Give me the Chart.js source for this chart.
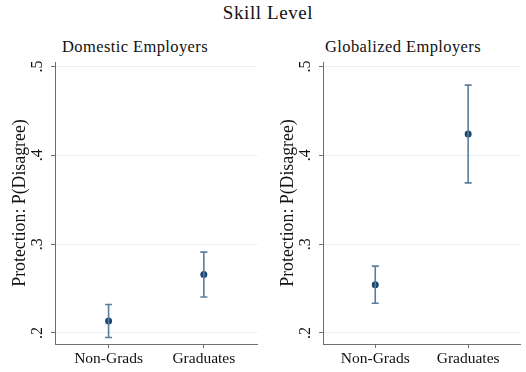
<!DOCTYPE html>
<html>
<head>
<meta charset="utf-8">
<script src="https://cdn.jsdelivr.net/npm/chart.js@4/dist/chart.umd.min.js"></script>
<style>
  body { margin: 0; background: #fff; }
  #wrap { position: relative; width: 526px; height: 372px; font-family: "Liberation Serif", serif; color: #111; }
  .lbl { position: absolute; white-space: nowrap; line-height: 1; }
  canvas { position: absolute; top: 0; }
</style>
</head>
<body>
<div id="wrap">
  <div class="lbl" id="mainTitle" style="left:0;width:526px;text-align:center;top:3px;font-size:19px;letter-spacing:0.6px;padding-left:10px;box-sizing:border-box;">Skill Level</div>
  <div class="lbl" style="left:62px;top:39px;font-size:16.5px;letter-spacing:0.4px;">Domestic Employers</div>
  <div class="lbl" style="left:325px;top:39px;font-size:16.5px;letter-spacing:0.4px;">Globalized Employers</div>
  <div id="left" style="position:absolute;left:0;top:0;width:263px;height:372px;"><canvas id="c1"></canvas></div>
  <div id="right" style="position:absolute;left:268px;top:0;width:258px;height:372px;"><canvas id="c2"></canvas></div>
</div>
<script>
// Predicted P(Disagree) by skill level, with 95% intervals
var categories = ['Non-Grads', 'Graduates'];
var yTicks = [0.2, 0.3, 0.4, 0.5];
var yTickLabels = ['.2', '.3', '.4', '.5'];

var domesticEst = [0.2135, 0.2657];
var domesticLo = [0.195, 0.2405];
var domesticHi = [0.232, 0.291];

var globalEst = [0.2544, 0.424];
var globalLo = [0.2334, 0.369];
var globalHi = [0.2752, 0.479];

var navy = '#1a476f';
var whisker = '#5a7c9c';
var axisGray = '#6e6e6e';
var gridColor = '#e9f0f1';
var serif = '"Liberation Serif", serif';

// draws the rotated y tick labels (Stata style)
var yTickPlugin = {
  id: 'yTickLabels',
  afterDraw: function(chart) {
    var ctx = chart.ctx;
    var y = chart.scales.y;
    ctx.save();
    ctx.fillStyle = '#111';
    ctx.font = '16px ' + serif;
    ctx.textAlign = 'center';
    ctx.textBaseline = 'middle';
    for (var i = 0; i < yTicks.length; i++) {
      var py = y.getPixelForValue(yTicks[i]);
      ctx.save();
      ctx.translate(y.right - 17, py);
      ctx.rotate(-Math.PI / 2);
      ctx.fillText(yTickLabels[i], 0, 0);
      ctx.restore();
    }
    ctx.restore();
  }
};

function makePanel(id, est, lo, hi, yWidth) {
  var datasets = [];
  for (var i = 0; i < categories.length; i++) {
    datasets.push({
      type: 'line',
      data: [{x: i, y: lo[i]}, {x: i, y: hi[i]}],
      borderColor: whisker,
      borderWidth: 1.6,
      pointStyle: 'line',
      pointRadius: 3.5,
      pointBorderColor: whisker,
      pointBorderWidth: 1.6,
      showLine: true
    });
  }
  datasets.push({
    type: 'scatter',
    data: est.map(function(v, i) { return {x: i, y: v}; }),
    backgroundColor: navy,
    borderColor: navy,
    pointRadius: 3.5,
    pointBorderWidth: 0
  });

  return new Chart(document.getElementById(id), {
    type: 'scatter',
    data: { datasets: datasets },
    options: {
      responsive: true,
      maintainAspectRatio: false,
      animation: false,
      events: [],
      layout: { padding: { top: 62, right: 4, left: 0, bottom: 0 } },
      plugins: { legend: { display: false }, tooltip: { enabled: false } },
      scales: {
        x: {
          type: 'linear',
          min: -0.5625,
          max: 1.5625,
          afterBuildTicks: function(s) { s.ticks = categories.map(function(c, i) { return {value: i}; }); },
          afterFit: function(s) { s.height = 28; },
          ticks: {
            callback: function(v) { return categories[v]; },
            color: '#111',
            font: { family: serif, size: 15.5 },
            padding: 2,
            maxRotation: 0
          },
          grid: { drawOnChartArea: false, tickLength: 4, tickColor: axisGray },
          border: { color: axisGray, width: 1 }
        },
        y: {
          min: 0.1876,
          max: 0.505,
          afterBuildTicks: function(s) { s.ticks = yTicks.map(function(v) { return {value: v}; }); },
          afterFit: function(s) { s.width = yWidth; },
          ticks: { display: false },
          grid: { color: gridColor, lineWidth: 1, tickLength: 4, tickColor: axisGray },
          border: { color: axisGray, width: 1 },
          title: {
            display: true,
            text: 'Protection: P(Disagree)',
            color: '#111',
            font: { family: serif, size: 17.8 },
            padding: { top: 10, bottom: 0 }
          }
        }
      }
    },
    plugins: [yTickPlugin]
  });
}

makePanel('c1', domesticEst, domesticLo, domesticHi, 55);
makePanel('c2', globalEst, globalLo, globalHi, 55);
</script>
</body>
</html>
